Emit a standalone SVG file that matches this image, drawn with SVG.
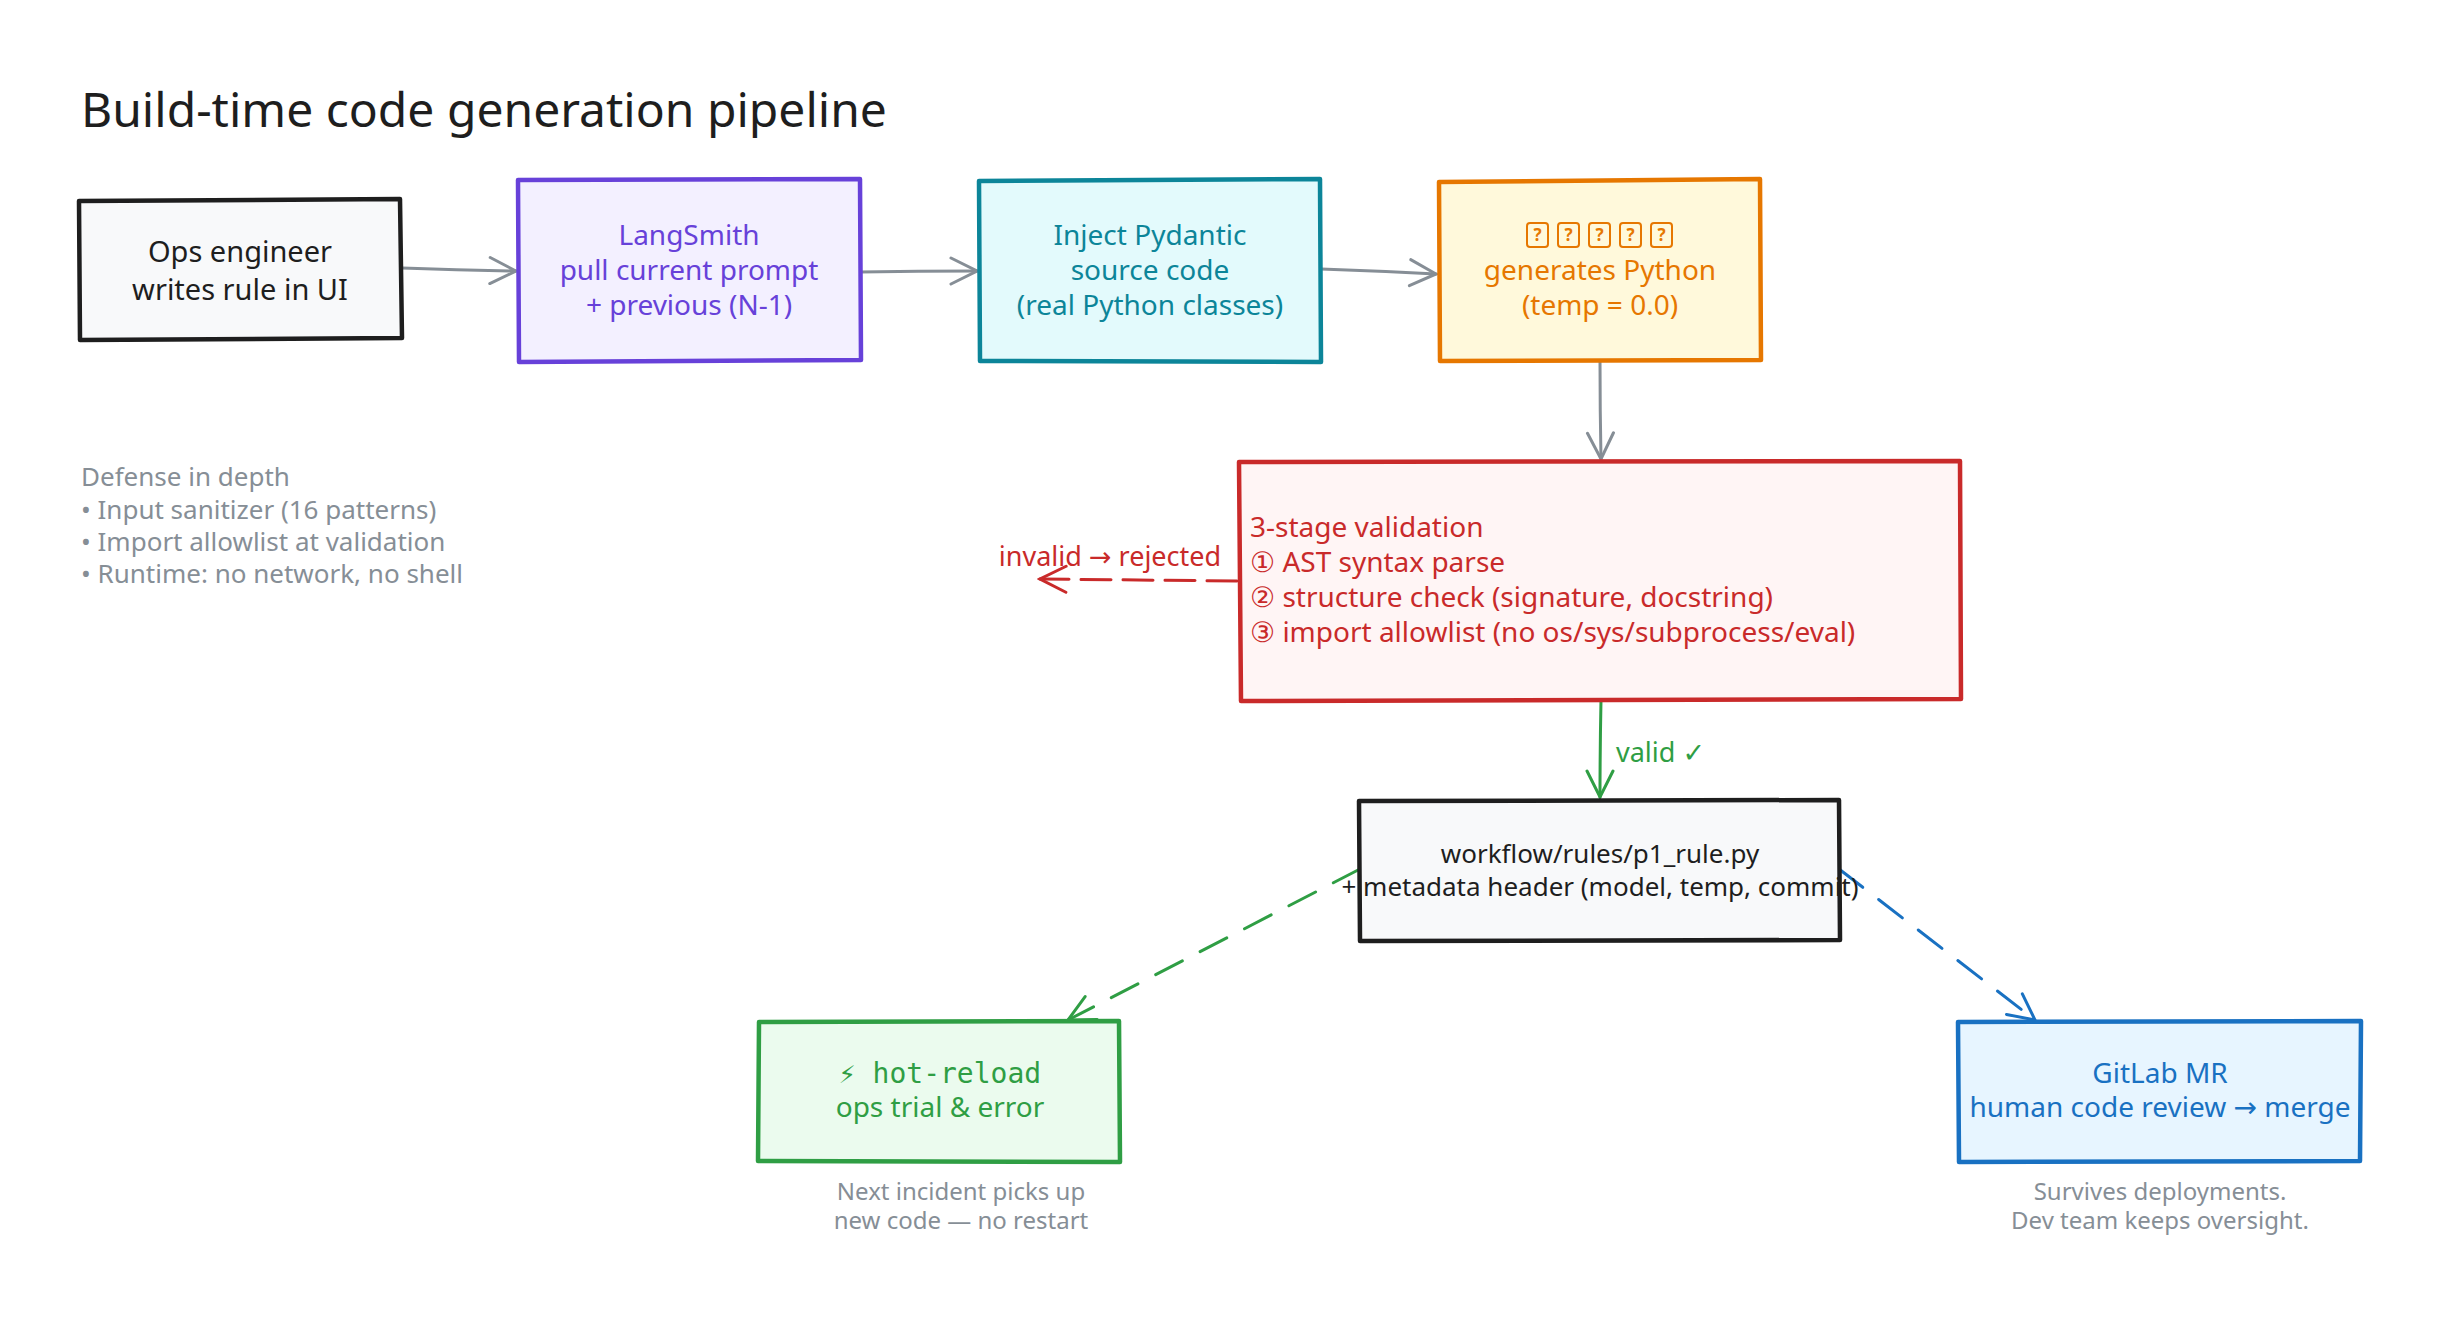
<svg xmlns="http://www.w3.org/2000/svg" width="2440" height="1336" viewBox="0 0 2440 1336">
<defs>
<style>
text{font-family:"Noto Sans","DejaVu Sans",sans-serif}
.t28{font-size:28px;text-anchor:middle}
.t26{font-size:26px}
.note{font-size:26px;fill:#868e96}
.cap{font-size:24px;fill:#868e96;text-anchor:middle}
.box{stroke-width:4.5;stroke-linejoin:round;stroke-linecap:round}
.conn{fill:none;stroke-width:3;stroke-linecap:round}
.mono{font-family:"DejaVu Sans Mono","Liberation Mono",monospace}
</style>
<marker id="ahGray" viewBox="0 0 32 32" refX="29" refY="16" markerWidth="32" markerHeight="32" markerUnits="userSpaceOnUse" orient="auto"><path d="M3,3 L29,16 L3,29" fill="none" stroke="#868e96" stroke-width="3" stroke-linecap="round"/></marker>
<marker id="ahRed" viewBox="0 0 32 32" refX="29" refY="16" markerWidth="32" markerHeight="32" markerUnits="userSpaceOnUse" orient="auto"><path d="M3,3 L29,16 L3,29" fill="none" stroke="#c92a2a" stroke-width="3" stroke-linecap="round"/></marker>
<marker id="ahGreen" viewBox="0 0 32 32" refX="29" refY="16" markerWidth="32" markerHeight="32" markerUnits="userSpaceOnUse" orient="auto"><path d="M3,3 L29,16 L3,29" fill="none" stroke="#2f9e44" stroke-width="3" stroke-linecap="round"/></marker>
<marker id="ahBlue" viewBox="0 0 32 32" refX="29" refY="16" markerWidth="32" markerHeight="32" markerUnits="userSpaceOnUse" orient="auto"><path d="M3,3 L29,16 L3,29" fill="none" stroke="#1971c2" stroke-width="3" stroke-linecap="round"/></marker>
</defs>
<rect width="2440" height="1336" fill="#ffffff"/>

<text id="title" x="81" y="127" font-size="48" fill="#1e1e1e">Build-time code generation pipeline</text>

<g id="defense-note">
<text class="note" x="81" y="486">Defense in depth</text>
<text class="note" x="81" y="519">• Input sanitizer (16 patterns)</text>
<text class="note" x="81" y="551">• Import allowlist at validation</text>
<text class="note" x="81" y="583">• Runtime: no network, no shell</text>
</g>

<g id="connectors">
<path class="conn" stroke="#868e96" d="M402,268 Q460,270 516,271" marker-end="url(#ahGray)"/>
<path class="conn" stroke="#868e96" d="M860,272 Q918,271 977,271" marker-end="url(#ahGray)"/>
<path class="conn" stroke="#868e96" d="M1321,269 Q1380,271 1436,274" marker-end="url(#ahGray)"/>
<path class="conn" stroke="#868e96" d="M1600,361 Q1600,410 1601,459" marker-end="url(#ahGray)"/>
<path class="conn" stroke="#c92a2a" stroke-width="3.5" stroke-dasharray="30 12" d="M1237,581 L1040,579" marker-end="url(#ahRed)"/>
<path class="conn" stroke="#2f9e44" d="M1601,700 Q1600,750 1600,797" marker-end="url(#ahGreen)"/>
<path class="conn" stroke="#2f9e44" stroke-dasharray="30 20" d="M1360,869 L1068,1020" marker-end="url(#ahGreen)"/>
<path class="conn" stroke="#1971c2" stroke-dasharray="30 20" d="M1839,869 L2035,1020" marker-end="url(#ahBlue)"/>
<text x="1110" y="566" font-size="27" fill="#c92a2a" text-anchor="middle">invalid → rejected</text>
<text x="1616" y="762" font-size="27" fill="#2f9e44">valid ✓</text>
</g>

<g id="node-ops">
<path class="box" d="M79,201 L400,199 L402,338 L80,340 Z" fill="#f8f9fa" stroke="#1e1e1e"/>
<text x="240" y="262" font-size="29" text-anchor="middle" fill="#1e1e1e">Ops engineer</text>
<text x="240" y="300" font-size="29" text-anchor="middle" fill="#1e1e1e">writes rule in UI</text>
</g>

<g id="node-langsmith">
<path class="box" d="M518,180 L860,179 L861,360 L519,362 Z" fill="#f3f0ff" stroke="#6741d9"/>
<text class="t28" x="689" y="245" fill="#6741d9">LangSmith</text>
<text class="t28" x="689" y="280" fill="#6741d9">pull current prompt</text>
<text class="t28" x="689" y="315" fill="#6741d9">+ previous (N-1)</text>
</g>

<g id="node-pydantic">
<path class="box" d="M979,181 L1320,179 L1321,362 L980,361 Z" fill="#e3fafc" stroke="#0c8599"/>
<text class="t28" x="1150" y="245" fill="#0c8599">Inject Pydantic</text>
<text class="t28" x="1150" y="280" fill="#0c8599">source code</text>
<text class="t28" x="1150" y="315" fill="#0c8599">(real Python classes)</text>
</g>

<g id="node-llm">
<path class="box" d="M1439,182 L1760,179 L1761,360 L1440,361 Z" fill="#fff9db" stroke="#e67700"/>
<g fill="none" stroke="#e67700" stroke-width="2">
<rect x="1527" y="223" width="21" height="24" rx="3"/>
<rect x="1558" y="223" width="21" height="24" rx="3"/>
<rect x="1589" y="223" width="21" height="24" rx="3"/>
<rect x="1620" y="223" width="21" height="24" rx="3"/>
<rect x="1651" y="223" width="21" height="24" rx="3"/>
</g>
<g font-size="17" font-weight="bold" fill="#e67700" text-anchor="middle">
<text x="1537.5" y="241">?</text>
<text x="1568.5" y="241">?</text>
<text x="1599.5" y="241">?</text>
<text x="1630.5" y="241">?</text>
<text x="1661.5" y="241">?</text>
</g>
<text class="t28" x="1600" y="280" fill="#e67700">generates Python</text>
<text class="t28" x="1600" y="315" fill="#e67700">(temp = 0.0)</text>
</g>

<g id="node-validation">
<path class="box" d="M1239,462 L1960,461 L1961,699 L1241,701 Z" fill="#fff5f5" stroke="#c92a2a"/>
<g font-size="28" fill="#c92a2a">
<text x="1250" y="537">3-stage validation</text>
<text x="1250" y="572">① AST syntax parse</text>
<text x="1250" y="607">② structure check (signature, docstring)</text>
<text x="1250" y="642">③ import allowlist (no os/sys/subprocess/eval)</text>
</g>
</g>

<g id="node-file">
<path d="M1359,801 L1839,800 L1840,940 L1360,941 Z" fill="#f8f9fa"/>
<text x="1600" y="863" font-size="26" fill="#1e1e1e" text-anchor="middle">workflow/rules/p1_rule.py</text>
<text x="1600" y="896" font-size="26" fill="#1e1e1e" text-anchor="middle">+ metadata header (model, temp, commit)</text>
<path class="box" d="M1359,801 L1839,800 L1840,940 L1360,941 Z" fill="none" stroke="#1e1e1e"/>
</g>

<g id="node-hotreload">
<path class="box" d="M759,1022 L1119,1021 L1120,1162 L758,1161 Z" fill="#ebfbee" stroke="#2f9e44"/>
<text class="mono" x="940" y="1083" font-size="28" fill="#2f9e44" text-anchor="middle">⚡ hot-reload</text>
<text class="t28" x="940" y="1117" fill="#2f9e44">ops trial &amp; error</text>
<text class="cap" x="961" y="1200">Next incident picks up</text>
<text class="cap" x="961" y="1229">new code — no restart</text>
</g>

<g id="node-gitlab">
<path class="box" d="M1958,1022 L2361,1021 L2360,1161 L1959,1162 Z" fill="#e7f5ff" stroke="#1971c2"/>
<text class="t28" x="2160" y="1083" fill="#1971c2">GitLab MR</text>
<text class="t28" x="2160" y="1117" fill="#1971c2">human code review → merge</text>
<text class="cap" x="2160" y="1200">Survives deployments.</text>
<text class="cap" x="2160" y="1229">Dev team keeps oversight.</text>
</g>
</svg>
